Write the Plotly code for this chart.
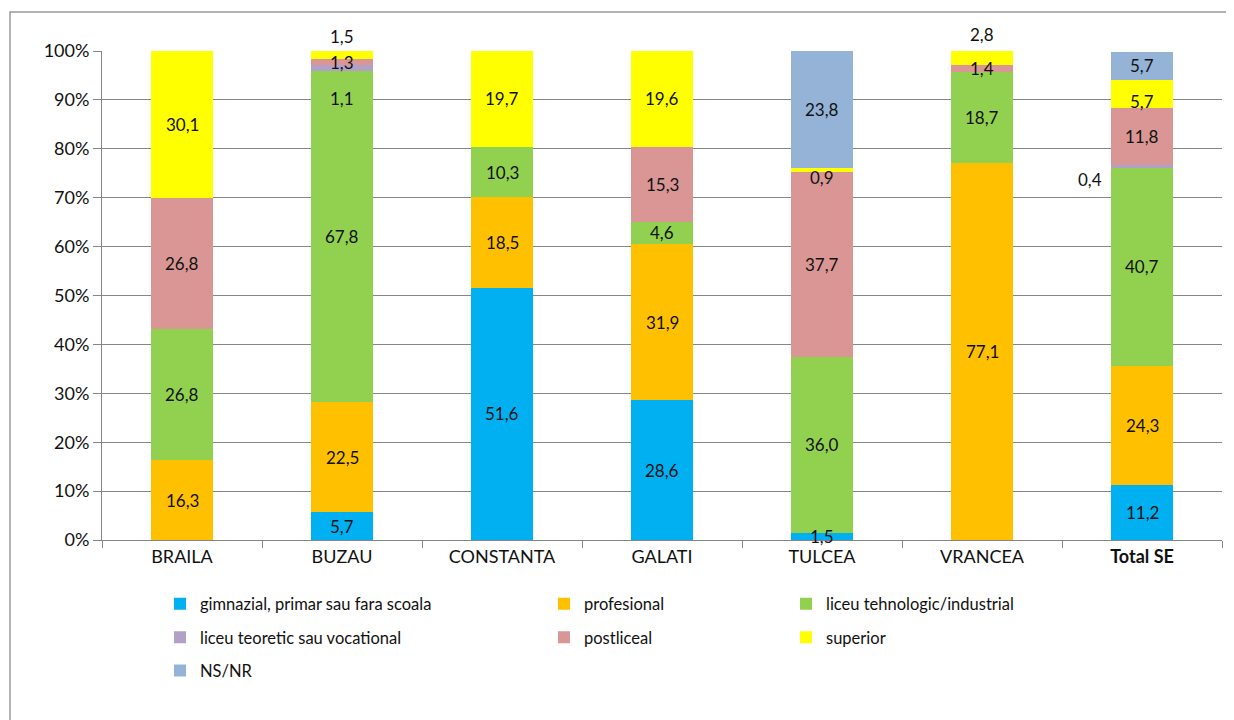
import plotly.graph_objects as go

categories = ["BRAILA", "BUZAU", "CONSTANTA", "GALATI", "TULCEA", "VRANCEA", "Total SE"]
category_ticktext = ["BRAILA", "BUZAU", "CONSTANTA", "GALATI", "TULCEA", "VRANCEA", "<b>Total SE</b>"]

gimnazial = [0, 5.7, 51.6, 28.6, 1.5, 0, 11.2]
profesional = [16.3, 22.5, 18.5, 31.9, 0, 77.1, 24.3]
liceu_tehnologic = [26.8, 67.8, 10.3, 4.6, 36.0, 18.7, 40.7]
liceu_teoretic = [0, 1.1, 0, 0, 0, 0, 0.4]
postliceal = [26.8, 1.3, 0, 15.3, 37.7, 1.4, 11.8]
superior = [30.1, 1.5, 19.7, 19.6, 0.9, 2.8, 5.7]
ns_nr = [0, 0, 0, 0, 23.8, 0, 5.7]

series = [
    ("gimnazial, primar sau fara scoala", gimnazial, "#00B0F0", "legend"),
    ("profesional", profesional, "#FFC000", "legend2"),
    ("liceu tehnologic/industrial", liceu_tehnologic, "#92D050", "legend3"),
    ("liceu teoretic sau vocational", liceu_teoretic, "#B2A1C7", "legend"),
    ("postliceal", postliceal, "#D99694", "legend2"),
    ("superior", superior, "#FFFF00", "legend3"),
    ("NS/NR", ns_nr, "#95B3D7", "legend"),
]

FONT = "Lato"
TXT = "#111111"
W, H = 1226, 712
L, R, T, B = 94, 12, 43, 180
PW, PH = W - L - R, H - T - B

fig = go.Figure()
for name, vals, color, leg in series:
    fig.add_trace(go.Bar(
        x=categories, y=vals, name=name, marker=dict(color=color, line=dict(width=0)),
        legend=leg, legendgroup=name, hoverinfo="skip"))


def fmt(v):
    return f"{v:.1f}".replace(".", ",")


# pixel nudges for labels of crowded small segments: (series index, category index) -> (dx, dy)
nudges = {
    (3, 1): (0, -31),   # BUZAU liceu teoretic label drawn lower
    (5, 1): (0, 19),    # BUZAU superior above the bar
    (5, 5): (0, 23),    # VRANCEA superior above the bar
    (5, 4): (0, -7),    # TULCEA superior
    (3, 6): (-52, -13), # Total SE liceu teoretic, left of the bar
    (5, 6): (0, -8),    # Total SE superior
}

annotations = []
for ci, cat in enumerate(categories):
    base = 0.0
    for si, (name, vals, color, leg) in enumerate(series):
        v = vals[ci]
        if v > 0:
            dx, dy = nudges.get((si, ci), (0, 0))
            annotations.append(dict(
                x=cat, y=base + v / 2, xref="x", yref="y", text=fmt(v), showarrow=False,
                font=dict(family=FONT, size=17, color=TXT),
                xshift=dx, yshift=dy))
        base += v

legend_common = dict(yanchor="top", xanchor="left", orientation="v", y=-0.095,
                     tracegroupgap=9, font=dict(family=FONT, size=16.5, color=TXT),
                     bgcolor="rgba(0,0,0,0)")

fig.update_layout(
    width=W, height=H,
    margin=dict(l=L, r=R, t=T, b=B),
    paper_bgcolor="white", plot_bgcolor="white",
    barmode="stack", bargap=0.61,
    showlegend=True,
    font=dict(family=FONT, size=17, color=TXT),
    annotations=annotations,
    xaxis=dict(showline=True, linecolor="#868686", linewidth=1,
               ticks="outside", ticklen=7, tickcolor="#868686",
               tickson="boundaries",
               tickvals=categories, ticktext=category_ticktext,
               tickfont=dict(family=FONT, size=18, color=TXT)),
    yaxis=dict(range=[0, 100], tickvals=list(range(0, 101, 10)),
               ticktext=[f"{t}%" for t in range(0, 101, 10)],
               showline=True, linecolor="#868686", linewidth=1,
               ticks="outside", ticklen=8, tickcolor="#868686",
               showgrid=True, gridcolor="#868686", gridwidth=1,
               zeroline=False,
               tickfont=dict(family=FONT, size=18, color=TXT)),
    legend=dict(x=(152 - L) / PW, **legend_common),
    legend2=dict(x=(536 - L) / PW, **legend_common),
    legend3=dict(x=(778 - L) / PW, **legend_common),
    shapes=[dict(type="rect", xref="paper", yref="paper",
                 x0=(2 - L) / PW, x1=(1224 - L) / PW,
                 y0=(T + PH - 730) / PH, y1=(T + PH - 4) / PH,
                 line=dict(color="#9a9a9a", width=1.5), fillcolor="rgba(0,0,0,0)", layer="below")],
)

fig.write_html("out.html")
